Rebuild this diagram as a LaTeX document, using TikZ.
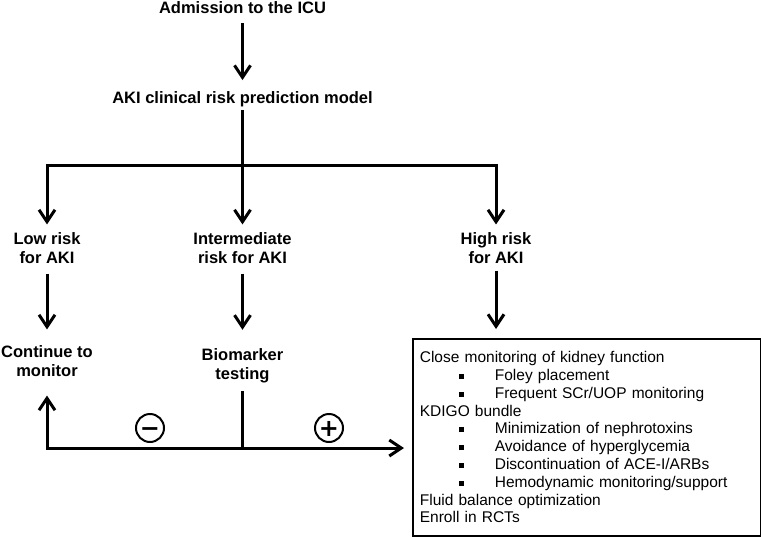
\documentclass[tikz,border=0pt]{standalone}
\usepackage{fontspec}
\setmainfont{Liberation Sans}
\newfontfamily\signfont{DejaVu Sans}
\usetikzlibrary{arrows.meta, calc}

\newcommand{\bitem}[1]{\hspace*{39.5pt}\raisebox{1.5pt}{\rule{5pt}{5pt}}\hspace*{30.5pt}#1}

\begin{document}
\begin{tikzpicture}[
  x=1pt, y=-1pt,
  lbl/.style={
    font=\fontsize{16.5}{18.5}\selectfont\bfseries,
    align=center,
    inner sep=0pt,
  },
  link/.style={line width=3pt},
  arrow/.style={link, -{Straight Barb[length=12pt, width=16pt]}},
  sign/.style={
    circle,
    draw,
    line width=2pt,
    minimum size=28pt,
    inner sep=0pt,
    text height=17.2pt,
    text depth=0pt,
    font=\signfont\fontsize{24}{24}\selectfont\bfseries,
  },
  actionbox/.style={
    rectangle,
    draw,
    line width=1.7pt,
    anchor=north west,
    minimum width=348pt,
    minimum height=197pt,
    text width=334pt,
    inner xsep=7pt,
    align=left,
    font=\fontsize{15.5}{17.8}\selectfont,
  },
]
\useasboundingbox (0, 0) rectangle (761, 536);

% ── Admission and risk model ──
\node[lbl] (icu) at (242.5, 7.5) {Admission to the ICU};
\node[lbl] (model) at (242.5, 99) {AKI clinical risk prediction model};
\draw[arrow, shorten <=9.5pt, shorten >=11pt] (icu) -- (model);

% ── Risk groups ──
\coordinate (split) at (242.5, 165);
\node[lbl] (low) at (47, 248) {Low risk\\for AKI};
\node[lbl] (mid) at (242.5, 248) {Intermediate\\risk for AKI};
\node[lbl] (high) at (496, 248) {High risk\\for AKI};

\draw[link, shorten <=3pt] (model) -- (split);
\draw[arrow, shorten >=8pt] (split) -| (low);
\draw[arrow, shorten >=8pt] (split) -- (mid);
\draw[arrow, shorten >=8pt] (split) -| (high);

% ── Next steps ──
\node[lbl] (cont) at (47, 361) {Continue to\\monitor};
\node[lbl] (bio) at (242.5, 366) {Biomarker\\testing};
\node[actionbox] (care) at (412, 338) {
  Close monitoring of kidney function\\
  \bitem{Foley placement}\\
  \bitem{Frequent SCr/UOP monitoring}\\
  KDIGO bundle\\
  \bitem{Minimization of nephrotoxins}\\
  \bitem{Avoidance of hyperglycemia}\\
  \bitem{Discontinuation of ACE-I/ARBs}\\
  \bitem{Hemodynamic monitoring/support}\\
  Fluid balance optimization\\
  Enroll in RCTs
};

\draw[arrow, shorten <=10pt, shorten >=16pt] (low) -- (cont);
\draw[arrow, shorten <=10pt, shorten >=19pt] (mid) -- (bio);
\draw[arrow, shorten <=7pt, shorten >=9pt] (high) -- (high |- care.north);

% ── Biomarker result ──
\coordinate (fork) at (242.5, 448);
\draw[link, shorten <=8pt] (bio) -- (fork);
\draw[arrow, shorten >=19pt] (fork) -| (cont);
\draw[arrow, shorten >=8pt] (fork) -- (care.west |- fork);

\node[sign] (neg) at (150, 428) {\char"2212};
\node[sign] (pos) at (329, 428) {+};

\end{tikzpicture}
\end{document}
